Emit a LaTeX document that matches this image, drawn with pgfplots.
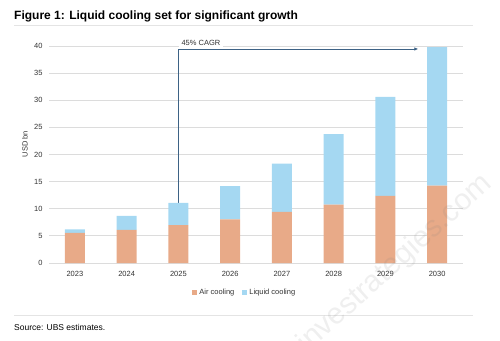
\documentclass[border=0pt]{standalone}
\usepackage{pgfplots}
\pgfplotsset{compat=1.18}
\usetikzlibrary{arrows.meta}
\usepackage{fontspec}
\setmainfont{Liberation Sans}

\definecolor{aircol}{HTML}{E8AA88}
\definecolor{liqcol}{HTML}{A5D8F2}
\definecolor{arrowcol}{HTML}{3D6285}
\definecolor{gridcol}{HTML}{DCDCDC}
\definecolor{rulecol}{HTML}{E4E4E4}
\definecolor{txtcol}{HTML}{333333}

\begin{document}
\begin{tikzpicture}
\begin{axis}[
  scale only axis, width=414pt, height=217pt,
  ybar stacked, bar width=20pt,
  xmin=-0.5, xmax=7.5, ymin=0, ymax=40,
  xtick=data,
  xticklabels={2023,2024,2025,2026,2027,2028,2029,2030},
  ytick={0,5,...,40},
  ymajorgrids, grid style={gridcol, line width=0.8pt},
  axis line style={draw=none},
  major tick length=0pt,
  tick label style={font=\fontsize{7.5}{9}\selectfont, text=txtcol},
  /pgf/number format/assume math mode=true,
  xticklabel style={yshift=-5pt},
  yticklabel style={xshift=-3pt},
  legend style={at={(0.473,-0.138)}, anchor=center, draw=none,
    legend columns=2, font=\fontsize{7.5}{9}\selectfont, text=txtcol,
    /tikz/every even column/.append style={column sep=6pt}},
  legend image code/.code={\fill[#1] (0pt,-2.5pt) rectangle (5pt,2.5pt);},
  clip=false,
]
\addplot+[draw=none, fill=aircol] coordinates {
  (0,5.54) (1,6.09) (2,7.00) (3,8.06) (4,9.41) (5,10.77) (6,12.37) (7,14.28)};
\addlegendentry{Air cooling}
\addplot+[draw=none, fill=liqcol] coordinates {
  (0,0.66) (1,2.59) (2,4.08) (3,6.09) (4,8.93) (5,12.98) (6,18.27) (7,25.52)};
\addlegendentry{Liquid cooling}

% CAGR arrow
\draw[arrowcol, line width=0.8pt, -{Latex[length=4pt,width=3.5pt]}]
  (axis cs:2,11.08) -- (axis cs:2,39.45) -- (axis cs:6.636,39.45);
\node[anchor=south west, fill=white, inner xsep=3pt, inner ysep=2pt,
  font=\fontsize{7.5}{9}\selectfont, text=txtcol] at (axis cs:2,39.6) {45\% CAGR};

\coordinate (O) at (rel axis cs:0,0);
\end{axis}

% page frame, measured from the plot area's lower left corner
\begin{scope}[shift={(O)}, x=1pt, y=1pt]
\pgfresetboundingbox
\useasboundingbox (-49,-77) rectangle (451,263);

% title and rules
\node[anchor=base west, font=\bfseries\fontsize{12}{14}\selectfont, inner sep=0] at (-35,243) {Figure 1: Liquid cooling set for significant growth};
\draw[rulecol, line width=0.8pt] (-35,238) -- (424,238);
\draw[rulecol, line width=0.8pt] (-35,-52) -- (424,-52);
\node[anchor=base west, font=\fontsize{8.5}{10}\selectfont, inner sep=0] at (-35,-67) {Source: UBS estimates.};

% y label
\node[rotate=90, font=\fontsize{7.5}{9}\selectfont, text=txtcol] at (-24,119) {USD bn};

% site mark
\begin{scope}
\clip (-49,-77) rectangle (451,263);
\node[rotate=42, font=\fontsize{30}{32}\selectfont, text=gray, opacity=0.13] at (346,-1) {investrategies.com};
\end{scope}
\end{scope}
\end{tikzpicture}
\end{document}
